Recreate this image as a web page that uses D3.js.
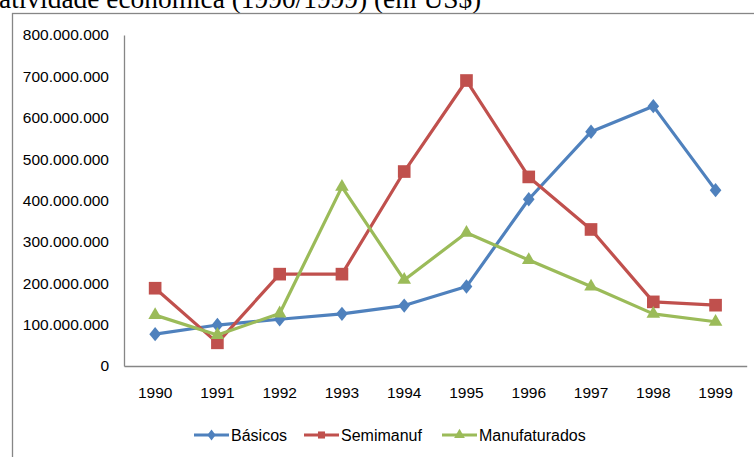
<!DOCTYPE html>
<html>
<head>
<meta charset="utf-8">
<script src="https://cdn.jsdelivr.net/npm/d3@7"></script>
<style>
  html, body { margin: 0; padding: 0; background: #fff; overflow: hidden; }
  svg text { font-family: "Liberation Sans", Arial, sans-serif; fill: #000; }
</style>
</head>
<body>
<svg id="chart_svg" width="754" height="457"></svg>
<script>
// valores (US$)
var anos = ["1990", "1991", "1992", "1993", "1994", "1995", "1996", "1997", "1998", "1999"];
var basicos = [77e6, 99e6, 113e6, 126e6, 146e6, 192e6, 403e6, 566e6, 628e6, 425e6];
var semimanuf = [188e6, 56e6, 222e6, 222e6, 470e6, 690e6, 457e6, 330e6, 155e6, 147e6];
var manufaturados = [123e6, 75e6, 127e6, 433e6, 208e6, 322e6, 256e6, 192e6, 126e6, 107e6];
var yTicks = [0, 100e6, 200e6, 300e6, 400e6, 500e6, 600e6, 700e6, 800e6];
var nomes = ["Básicos", "Semimanuf", "Manufaturados"];
var titulo = "atividade econômica (1990/1999) (em US$)";

var PLOT = { LEFT: 124, RIGHT: 746.7, TOP: 35, BOTTOM: 366 };
var cores = ["#4F81BD", "#C0504D", "#9BBB59"];
var simbolos = [d3.symbolDiamond, d3.symbolSquare, d3.symbolTriangle];

var svg = d3.select("#chart_svg");

// titulo cortado no topo (vem do documento original)
svg.append("text")
  .attr("x", -1).attr("y", 7.5)
  .style("font-family", "'Liberation Serif', 'Times New Roman', serif")
  .attr("font-size", 27.4)
  .text(titulo);

// borda da área do gráfico
svg.append("rect")
  .attr("x", 12.5).attr("y", 13.5)
  .attr("width", 900).attr("height", 600)
  .attr("fill", "none").attr("stroke", "#868686").attr("stroke-width", 1.3);

var locale = d3.formatLocale({ decimal: ",", thousands: ".", grouping: [3], currency: ["US$", ""] });
var fmt = locale.format(",.0f");

var x = d3.scaleBand().domain(anos).range([PLOT.LEFT, PLOT.RIGHT]);
var y = d3.scaleLinear().domain([0, 800e6]).range([PLOT.BOTTOM, PLOT.TOP]);

var yAxis = svg.append("g")
  .attr("transform", "translate(" + PLOT.LEFT + ",0)")
  .call(d3.axisLeft(y).tickValues(yTicks).tickFormat(fmt).tickSize(0).tickPadding(15));
yAxis.select(".domain").attr("stroke", "#868686").attr("stroke-width", 1.3);
yAxis.selectAll("text").attr("font-size", 15.5).style("font-family", "'Liberation Sans', Arial, sans-serif");

var xAxis = svg.append("g")
  .attr("transform", "translate(0," + PLOT.BOTTOM + ")")
  .call(d3.axisBottom(x).tickSize(0).tickPadding(21));
xAxis.select(".domain").attr("stroke", "#868686").attr("stroke-width", 1.3);
xAxis.selectAll("text").attr("font-size", 15.5).style("font-family", "'Liberation Sans', Arial, sans-serif");

var series = [basicos, semimanuf, manufaturados];
var tamanhos = [60, 160, 80];

var linha = d3.line()
  .x(function (d, i) { return x(anos[i]) + x.bandwidth() / 2; })
  .y(function (d) { return y(d); });

series.forEach(function (valores, s) {
  svg.append("path")
    .datum(valores)
    .attr("d", linha)
    .attr("fill", "none")
    .attr("stroke", cores[s])
    .attr("stroke-width", 3.2)
    .attr("stroke-linejoin", "round");

  svg.selectAll(".m" + s)
    .data(valores)
    .enter().append("path")
    .attr("class", "m" + s)
    .attr("d", d3.symbol().type(simbolos[s]).size(tamanhos[s]))
    .attr("transform", function (d, i) {
      var sy = s === 0 ? " scale(1.4,1)" : "";
      return "translate(" + (x(anos[i]) + x.bandwidth() / 2) + "," + y(d) + ")" + sy;
    })
    .attr("fill", cores[s]);
});

// legenda
var legendaX = [194, 304, 442];
var leg = svg.append("g").attr("transform", "translate(0,435)");
nomes.forEach(function (nome, s) {
  var g = leg.append("g").attr("transform", "translate(" + legendaX[s] + ",0)");
  g.append("line").attr("x1", 0).attr("x2", 35).attr("y1", 0).attr("y2", 0)
    .attr("stroke", cores[s]).attr("stroke-width", 3.2);
  g.append("path")
    .attr("d", d3.symbol().type(simbolos[s]).size(s === 0 ? 35 : 50))
    .attr("transform", "translate(17.5,0)" + (s === 0 ? " scale(1.3,1)" : ""))
    .attr("fill", cores[s]);
  g.append("text").attr("x", 37).attr("y", 6).attr("font-size", 16).text(nome);
});
</script>
</body>
</html>
